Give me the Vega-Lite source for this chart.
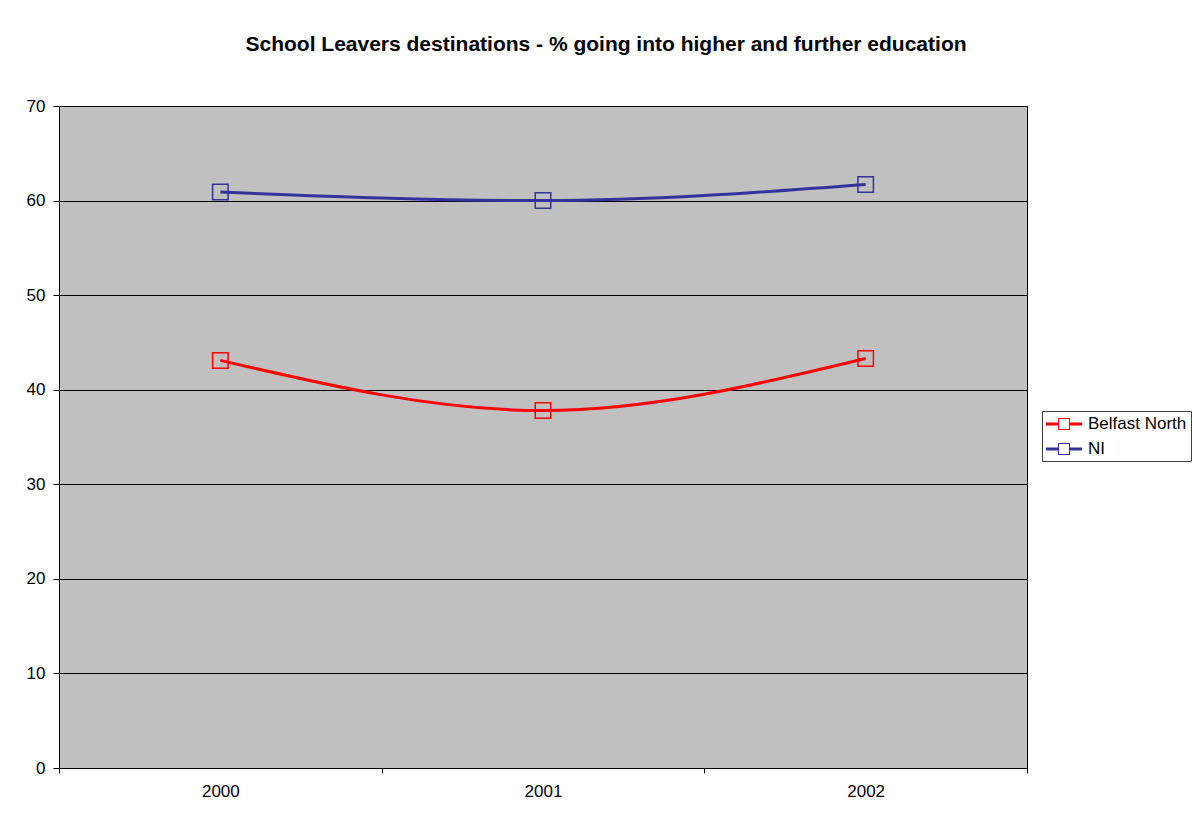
{
  "$schema": "https://vega.github.io/schema/vega-lite/v6.json",
  "width": 968,
  "height": 662,
  "autosize": {"type": "none"},
  "padding": {"left": 59, "top": 106, "right": 165, "bottom": 46},
  "background": "white",
  "title": {
    "text": "School Leavers destinations - % going into higher and further education",
    "font": "Liberation Sans",
    "fontSize": 21,
    "fontWeight": "bold",
    "color": "black",
    "anchor": "middle",
    "baseline": "alphabetic",
    "dx": 63,
    "offset": 25
  },
  "config": {
    "view": {"fill": "#C0C0C0", "stroke": "black", "strokeWidth": 1},
    "axis": {"labelFont": "Liberation Sans", "labelFontSize": 17, "labelColor": "black", "domainColor": "black", "tickColor": "black", "titleFont": "Liberation Sans"},
    "legend": {"labelFont": "Liberation Sans", "labelFontSize": 17, "labelColor": "black"}
  },
  "data": {
    "values": [
      {"year": 2000, "series": "Belfast North", "value": 43.1},
      {"year": 2001, "series": "Belfast North", "value": 37.8},
      {"year": 2002, "series": "Belfast North", "value": 43.3},
      {"year": 2000, "series": "NI", "value": 60.9},
      {"year": 2001, "series": "NI", "value": 60.0},
      {"year": 2002, "series": "NI", "value": 61.7}
    ]
  },
  "encoding": {
    "x": {
      "field": "year",
      "type": "quantitative",
      "scale": {"domain": [1999.5, 2002.5], "nice": false, "zero": false},
      "axis": {
        "title": null,
        "grid": false,
        "values": [1999.5, 2000, 2000.5, 2001, 2001.5, 2002, 2002.5],
        "labelExpr": "datum.value % 1 === 0 ? format(datum.value, 'd') : ''",
        "tickOpacity": {"condition": {"test": "datum.value % 1 === 0", "value": 0}, "value": 1},
        "tickSize": 5,
        "labelPadding": 10,
        "labelFlush": false
      }
    },
    "y": {
      "field": "value",
      "type": "quantitative",
      "scale": {"domain": [0, 70], "nice": false},
      "axis": {
        "title": null,
        "values": [0, 10, 20, 30, 40, 50, 60, 70],
        "grid": true,
        "gridColor": "black",
        "gridOpacity": 1,
        "gridWidth": 1,
        "tickSize": 6,
        "labelPadding": 8
      }
    },
    "color": {
      "field": "series",
      "type": "nominal",
      "scale": {"domain": ["Belfast North", "NI"], "range": ["#FF0000", "#333399"]},
      "legend": {
        "title": null,
        "orient": "none",
        "legendX": 983,
        "legendY": 305,
        "strokeColor": "#404040",
        "fillColor": "white",
        "padding": 4,
        "rowPadding": 8,
        "symbolType": "M-1,-0.167H0.333V0.167H-1Z M1.667,-0.167H3V0.167H1.667Z M0.333,-0.667H1.667V0.667H0.333Z M0.444,-0.556V0.556H1.556V-0.556Z",
        "symbolSize": 324,
        "labelOffset": 24,
        "encode": {
          "symbols": {
            "update": {
              "fill": {"scale": "color", "field": "value"},
              "stroke": {"value": "transparent"},
              "strokeWidth": {"value": 0},
              "fillOpacity": {"value": 1}
            }
          }
        }
      }
    }
  },
  "layer": [
    {
      "mark": {"type": "line", "interpolate": "monotone", "strokeWidth": 3}
    },
    {
      "mark": {"type": "point", "shape": "square", "filled": false, "size": 240, "strokeWidth": 1.5, "opacity": 1}
    }
  ]
}
